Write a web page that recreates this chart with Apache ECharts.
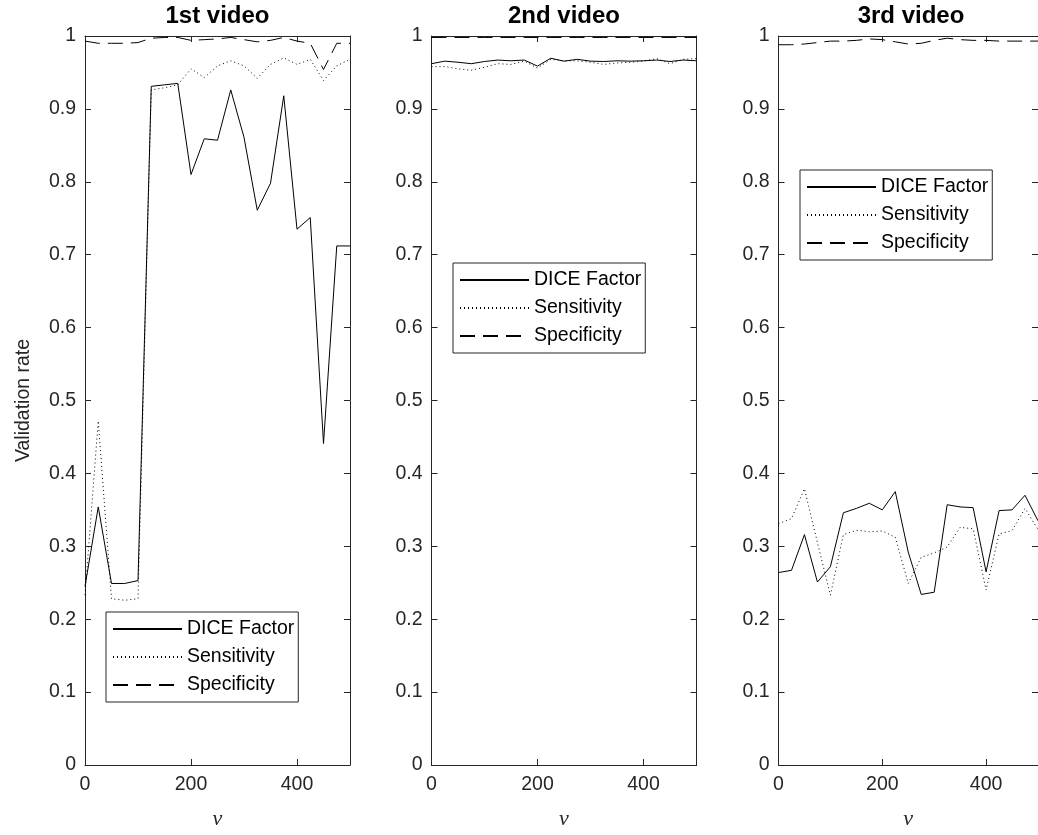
<!DOCTYPE html>
<html>
<head>
<meta charset="utf-8">
<script src="https://cdn.jsdelivr.net/npm/echarts@6/dist/echarts.min.js"></script>
<style>
html,body{margin:0;padding:0;background:#fff;}
#chart{width:1038px;height:835px;}
</style>
</head>
<body>
<div id="chart"></div>
<script>
var nu = [0,25,50,75,100,125,150,175,200,225,250,275,300,325,350,375,400,425,450,475,500];
var titles = ['1st video','2nd video','3rd video'];
var seriesNames = ['DICE Factor','Sensitivity','Specificity'];
var yTickLabels = ['0','0.1','0.2','0.3','0.4','0.5','0.6','0.7','0.8','0.9','1'];

var dice1 = [0.245,0.354,0.249,0.249,0.253,0.931,0.933,0.935,0.810,0.859,0.857,0.926,0.861,0.761,0.798,0.918,0.735,0.751,0.441,0.712,0.712];
var sens1 = [0.233,0.472,0.228,0.226,0.228,0.926,0.929,0.933,0.955,0.943,0.959,0.966,0.959,0.942,0.961,0.970,0.961,0.968,0.939,0.959,0.968];
var spec1 = [0.993,0.990,0.990,0.990,0.991,0.997,0.998,0.998,0.994,0.995,0.996,0.998,0.995,0.992,0.994,0.998,0.993,0.990,0.954,0.990,0.990];

var dice2 = [0.962,0.9655,0.964,0.962,0.965,0.967,0.966,0.967,0.9587,0.9695,0.9655,0.968,0.9655,0.965,0.966,0.9655,0.966,0.967,0.965,0.967,0.966];
var sens2 = [0.958,0.958,0.955,0.953,0.957,0.962,0.961,0.9655,0.956,0.968,0.966,0.966,0.964,0.961,0.963,0.964,0.9655,0.969,0.962,0.968,0.969];
var spec2 = [0.998,0.998,0.998,0.998,0.998,0.998,0.998,0.998,0.998,0.998,0.998,0.998,0.998,0.998,0.998,0.998,0.998,0.998,0.998,0.998,0.998];

var dice3 = [0.264,0.267,0.316,0.251,0.272,0.346,0.352,0.359,0.350,0.375,0.292,0.234,0.237,0.357,0.354,0.353,0.265,0.349,0.350,0.370,0.335];
var sens3 = [0.331,0.338,0.379,0.305,0.233,0.316,0.322,0.320,0.321,0.3125,0.249,0.285,0.291,0.299,0.326,0.324,0.240,0.317,0.3215,0.352,0.323];
var spec3 = [0.988,0.988,0.989,0.991,0.993,0.993,0.994,0.996,0.995,0.992,0.989,0.990,0.994,0.997,0.995,0.994,0.994,0.993,0.993,0.993,0.993];

var allData = [[dice1,sens1,spec1],[dice2,sens2,spec2],[dice3,sens3,spec3]];

var AX = '#262626';
var FONT = 'Liberation Sans, Arial, Helvetica, sans-serif';
var gridLefts = [85, 431.5, 778.5];
var gridW = 265, gridTop = 36, gridH = 735;
var legendPos = [{left:106, top:612},{left:453, top:263},{left:800, top:170}];

var grids = [], xAxes = [], yAxes = [], series = [], legends = [], graphics = [];
var lineTypes = ['solid',[1,3],[15,8]];

for (var g = 0; g < 3; g++) {
  grids.push({left: gridLefts[g], top: gridTop, width: gridW, height: gridH, containLabel: false});
  xAxes.push({
    type:'value', gridIndex:g, min:0, max:500, interval:200, position:'bottom',
    name:'\u03bd', nameLocation:'middle', nameGap:43,
    nameTextStyle:{fontFamily:'Liberation Serif, DejaVu Serif, serif', fontStyle:'italic', fontSize:22, color:AX},
    axisLine:{show:true, onZero:false, lineStyle:{color:AX, width:1}},
    axisTick:{show:true, inside:true, length:6, lineStyle:{color:AX}},
    axisLabel:{show:true, color:AX, fontSize:19.5, fontFamily:FONT, margin:10, showMaxLabel:false},
    splitLine:{show:false}
  });
  xAxes.push({
    type:'value', gridIndex:g, min:0, max:500, interval:200, position:'top',
    axisLine:{show:true, onZero:false, lineStyle:{color:AX, width:1}},
    axisTick:{show:true, inside:true, length:6, lineStyle:{color:AX}},
    axisLabel:{show:false}, splitLine:{show:false}
  });
  var yMain = {
    type:'value', gridIndex:g, min:0, max:1, interval:0.1, position:'left',
    axisLine:{show:true, onZero:false, lineStyle:{color:AX, width:1}},
    axisTick:{show:true, inside:true, length:6, lineStyle:{color:AX}},
    axisLabel:{show:true, color:AX, fontSize:19.5, fontFamily:FONT, margin:9,
      formatter:function(v){ return yTickLabels[Math.round(v*10)]; }},
    splitLine:{show:false}
  };
  if (g === 0) {
    yMain.name = 'Validation rate';
    yMain.nameLocation = 'middle';
    yMain.nameGap = 51;
    yMain.nameTextStyle = {fontSize:19.5, fontFamily:FONT, color:AX};
  }
  yAxes.push(yMain);
  yAxes.push({
    type:'value', gridIndex:g, min:0, max:1, interval:0.1, position:'right',
    axisLine:{show:true, onZero:false, lineStyle:{color:AX, width:1}},
    axisTick:{show:true, inside:true, length:6, lineStyle:{color:AX}},
    axisLabel:{show:false}, splitLine:{show:false}
  });
  for (var s = 0; s < 3; s++) {
    var vals = allData[g][s];
    series.push({
      name: seriesNames[s], type:'line', xAxisIndex:g*2, yAxisIndex:g*2,
      data: nu.map(function(x,i){ return [x, vals[i]]; }),
      symbol:'none', showSymbol:false, animation:false,
      lineStyle:{color:'#000', width:1, type:lineTypes[s]},
      itemStyle:{color:'#000'},
      emphasis:{disabled:true}
    });
  }
  legends.push({
    left: legendPos[g].left, top: legendPos[g].top, orient:'vertical',
    data: seriesNames, selectedMode:false,
    itemWidth:69, itemHeight:20, itemGap:8,
    padding:[7,4,7,6],
    borderColor:AX, borderWidth:1, backgroundColor:'#fff',
    itemStyle:{opacity:0},
    textStyle:{fontSize:19.5, fontFamily:FONT, color:'#000'}
  });
  graphics.push({
    type:'text', x: gridLefts[g] + gridW/2, y: 16,
    style:{text: titles[g], fill:'#000', font:'bold 24px ' + FONT, align:'center', verticalAlign:'middle'}
  });
}

var chart = echarts.init(document.getElementById('chart'), null, {renderer:'canvas'});
chart.setOption({
  animation:false,
  backgroundColor:'#fff',
  grid: grids, xAxis: xAxes, yAxis: yAxes, series: series, legend: legends,
  graphic: graphics
});
</script>
</body>
</html>
